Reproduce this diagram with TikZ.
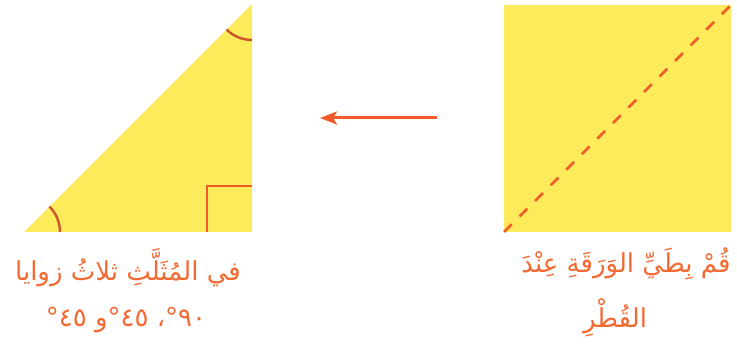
\documentclass[tikz,border=0pt]{standalone}
\usepackage{fontspec}
\newfontfamily\arabicfont[Script=Arabic]{DejaVu Sans}
\TeXXeTstate=1
\usetikzlibrary{arrows.meta}
\definecolor{paper}{HTML}{FEEB5C}
\definecolor{foldred}{HTML}{F15A29}
\definecolor{arcbrown}{HTML}{C9552B}
\definecolor{txt}{HTML}{F26A33}
\tikzset{
  sheet/.style={fill=paper, draw=none},
  foldline/.style={draw=foldred, line width=2.6pt, dash pattern=on 11pt off 11pt},
  anglemark/.style={draw=arcbrown, line width=2.4pt},
  rightmark/.style={draw=foldred, line width=2.2pt},
  flow/.style={draw=foldred, line width=3pt, -{Stealth[length=17pt,width=13pt,inset=4pt]}},
  label/.style={text=txt, font=\arabicfont\fontsize{26}{30}\selectfont, inner sep=0pt, anchor=center}
}
\begin{document}
\begin{tikzpicture}[x=1pt,y=-1pt]
\useasboundingbox (0,0) rectangle (737,350);
% square sheet
\fill[sheet] (504,5) rectangle (731,232);
\coordinate (sqBL) at (504,232);
\coordinate (sqTR) at (731,5);
\draw[foldline] (sqBL) -- (sqTR);
% triangle
\coordinate (tA) at (24,232);
\coordinate (tB) at (252,232);
\coordinate (tC) at (252,4);
\fill[sheet] (tA) -- (tB) -- (tC) -- cycle;
\draw[rightmark] (252,186) -- (207,186) -- (207,232);
\draw[anglemark] (tA) ++(36,0) arc[start angle=0, end angle=45, radius=36pt];
\draw[anglemark] (tC) ++(0,36) arc[start angle=270, end angle=225, radius=36pt];
% arrow
\coordinate (arrS) at (437,118);
\coordinate (arrE) at (320,118);
\draw[flow] (arrS) -- (arrE);
% texts
\node[label] (t1) at (128,268) {\beginR في المُثَلَّثِ ثلاثُ زوايا\endR};
\node[label] (t2) at (126,320) {\beginR\beginL٩٠\endL\kern0pt°\kern0pt،\ \beginL٤٥\endL\kern0pt°\kern0pt و\ \beginL٤٥\endL\kern0pt°\endR};
\node[label] (t3) at (626,264) {\beginR قُمْ بِطَيِّ الوَرَقَةِ عِنْدَ\endR};
\node[label] (t4) at (615,318) {\beginR القُطْرِ\endR};
\end{tikzpicture}
\end{document}
